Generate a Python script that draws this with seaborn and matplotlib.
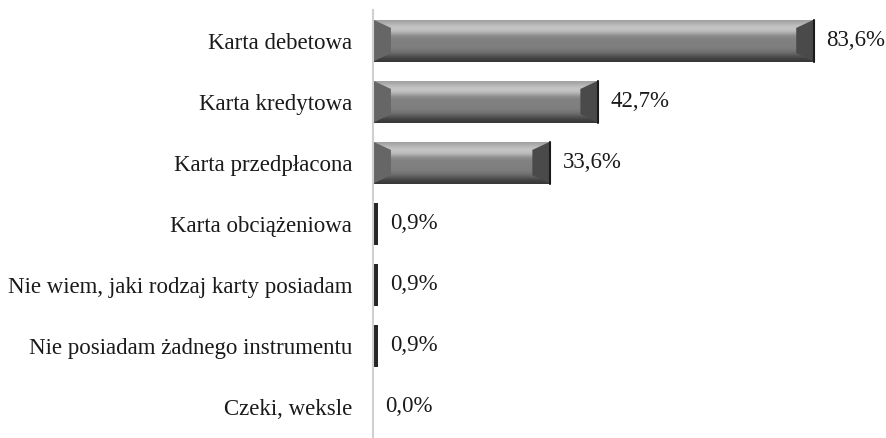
import numpy as np
import matplotlib
matplotlib.use("Agg")
import matplotlib.pyplot as plt
import seaborn as sns
from matplotlib.patches import Polygon

categories = [
    "Karta debetowa",
    "Karta kredytowa",
    "Karta przedpłacona",
    "Karta obciążeniowa",
    "Nie wiem, jaki rodzaj karty posiadam",
    "Nie posiadam żadnego instrumentu",
    "Czeki, weksle",
]
values = [83.6, 42.7, 33.6, 0.9, 0.9, 0.9, 0.0]
labels = ["83,6%", "42,7%", "33,6%", "0,9%", "0,9%", "0,9%", "0,0%"]

sns.set_style("white")
plt.rcParams["font.family"] = ["Liberation Serif", "DejaVu Serif"]

fig = plt.figure(figsize=(8.87, 4.38), dpi=100)
ax = fig.add_axes([0.4205, 0.002, 0.5795, 0.975])

sns.barplot(x=values, y=categories, orient="h", color="#7f7f7f",
            width=0.69, saturation=1, ax=ax, edgecolor="none")

ax.set_xlim(0, 97.4)
ax.set_ylim(6.5, -0.5)

# vertical gradient for the bevelled look
grad = np.array([0.62, 0.72, 0.78, 0.74, 0.55, 0.50, 0.50, 0.50, 0.48, 0.42, 0.30, 0.22])[:, None]
for p in ax.patches:
    x0, y0 = p.get_x(), p.get_y()
    w, h = p.get_width(), p.get_height()
    if w <= 0:
        continue
    if w < 2:
        p.set_facecolor("#262626")
        continue
    im = ax.imshow(grad, cmap="gray", vmin=0, vmax=1, aspect="auto",
                   extent=(x0, x0 + w, y0 + h, y0), interpolation="bicubic", zorder=p.get_zorder() + 0.1)
    im.set_clip_path(p)
    bx = 3.4
    by = h * 0.2
    left = Polygon([(x0, y0), (x0 + bx, y0 + by), (x0 + bx, y0 + h - by), (x0, y0 + h)],
                   closed=True, facecolor="#666666", edgecolor="none", zorder=p.get_zorder() + 0.2)
    right = Polygon([(x0 + w, y0), (x0 + w - bx, y0 + by), (x0 + w - bx, y0 + h - by), (x0 + w, y0 + h)],
                    closed=True, facecolor="#4a4a4a", edgecolor="none", zorder=p.get_zorder() + 0.2)
    ax.add_patch(left)
    ax.add_patch(right)
    ax.plot([x0 + w, x0 + w], [y0, y0 + h], color="#1a1a1a", lw=1.5, zorder=p.get_zorder() + 0.3)

for i, (v, lab) in enumerate(zip(values, labels)):
    ax.text(v + 2.3, i, lab, va="center", ha="left", fontsize=16.5, color="#1a1a1a")

ax.set_xticks([])
ax.set_xlabel("")
ax.set_ylabel("")
ax.tick_params(axis="y", length=0, pad=15, labelsize=16.5, labelcolor="#1a1a1a")
for s in ["top", "right", "bottom"]:
    ax.spines[s].set_visible(False)
ax.spines["left"].set_color("#d0d0d0")
ax.spines["left"].set_linewidth(1.5)

fig.savefig("out.png", dpi=100)
